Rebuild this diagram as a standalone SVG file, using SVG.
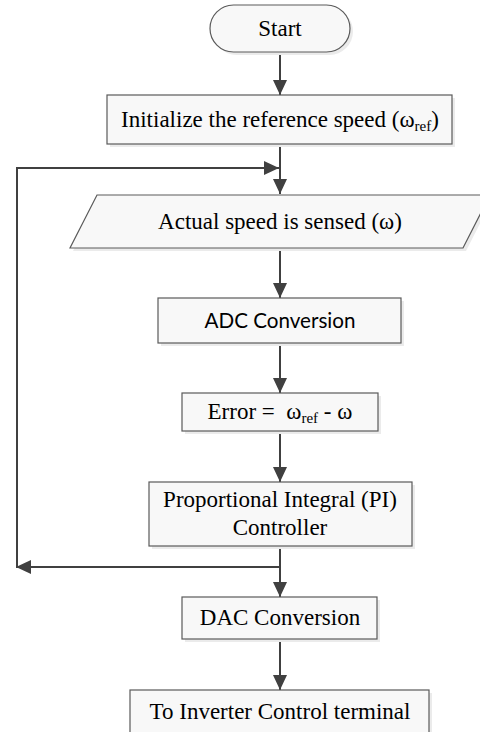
<svg xmlns="http://www.w3.org/2000/svg" width="480" height="732" viewBox="0 0 480 732">
<style>
.box{fill:#f8f8f8;stroke:#5a5a5a;stroke-width:1.2}
.sh{fill:#ebebeb}
.t{font-family:"Liberation Serif","Times New Roman",serif;font-size:23px;fill:#000;text-anchor:middle}
.s{font-family:Lato,"Open Sans",sans-serif;font-size:22px;fill:#000;text-anchor:middle}
.c{fill:none;stroke:#404040;stroke-width:2}
</style>
<defs>
<marker id="ah" markerUnits="userSpaceOnUse" markerWidth="15" markerHeight="14" viewBox="0 0 15 14" refX="15" refY="7" orient="auto">
<path d="M0,0 L15,7 L0,14 z" fill="#404040"/>
</marker>
</defs>
<g id="connectors">
<path class="c" d="M280,52 V95" marker-end="url(#ah)"/>
<path class="c" d="M280,144 V194" marker-end="url(#ah)"/>
<path class="c" d="M17,567 V168 H279" marker-end="url(#ah)"/>
<path class="c" d="M280,248 V298" marker-end="url(#ah)"/>
<path class="c" d="M280,343 V393" marker-end="url(#ah)"/>
<path class="c" d="M280,431 V482" marker-end="url(#ah)"/>
<path class="c" d="M280,546 V597" marker-end="url(#ah)"/>
<path class="c" d="M280,567 H16" marker-end="url(#ah)"/>
<path class="c" d="M280,639 V690" marker-end="url(#ah)"/>
</g>
<g id="start">
<rect class="sh" x="213" y="8" width="140" height="47" rx="23.5"/>
<rect class="box" x="210" y="5" width="140" height="47" rx="23.5"/>
<text class="t" x="280" y="36">Start</text>
</g>
<g id="init">
<rect class="sh" x="110" y="98" width="345" height="49"/>
<rect class="box" x="107" y="95" width="345" height="49"/>
<text class="t" x="280" y="127">Initialize the reference speed (ω<tspan font-size="15" dy="4">ref</tspan><tspan dy="-4">)</tspan></text>
</g>
<g id="sense">
<polygon class="sh" points="100,198 493,198 466,251 73,251"/>
<polygon class="box" points="97,195 490,195 463,248 70,248"/>
<text class="t" x="280" y="229">Actual speed is sensed (ω)</text>
</g>
<g id="adc">
<rect class="sh" x="161" y="301" width="243" height="45"/>
<rect class="box" x="158" y="298" width="243" height="45"/>
<text class="s" x="280" y="328" textLength="151" lengthAdjust="spacingAndGlyphs">ADC Conversion</text>
</g>
<g id="error">
<rect class="sh" x="185" y="396" width="196" height="38"/>
<rect class="box" x="182" y="393" width="196" height="38"/>
<text class="t" x="280" y="419" xml:space="preserve">Error =  ω<tspan font-size="15" dy="4">ref</tspan><tspan dy="-4"> - ω</tspan></text>
</g>
<g id="pi">
<rect class="sh" x="152" y="485" width="263" height="64"/>
<rect class="box" x="149" y="482" width="263" height="64"/>
<text class="t" x="280" y="507">Proportional Integral (PI)</text>
<text class="t" x="280" y="535">Controller</text>
</g>
<g id="dac">
<rect class="sh" x="185" y="600" width="195" height="42"/>
<rect class="box" x="182" y="597" width="195" height="42"/>
<text class="t" x="280" y="625">DAC Conversion</text>
</g>
<g id="inverter">
<rect class="sh" x="133" y="693" width="299" height="50"/>
<rect class="box" x="130" y="690" width="299" height="50"/>
<text class="t" x="280" y="719">To Inverter Control terminal</text>
</g>
</svg>
